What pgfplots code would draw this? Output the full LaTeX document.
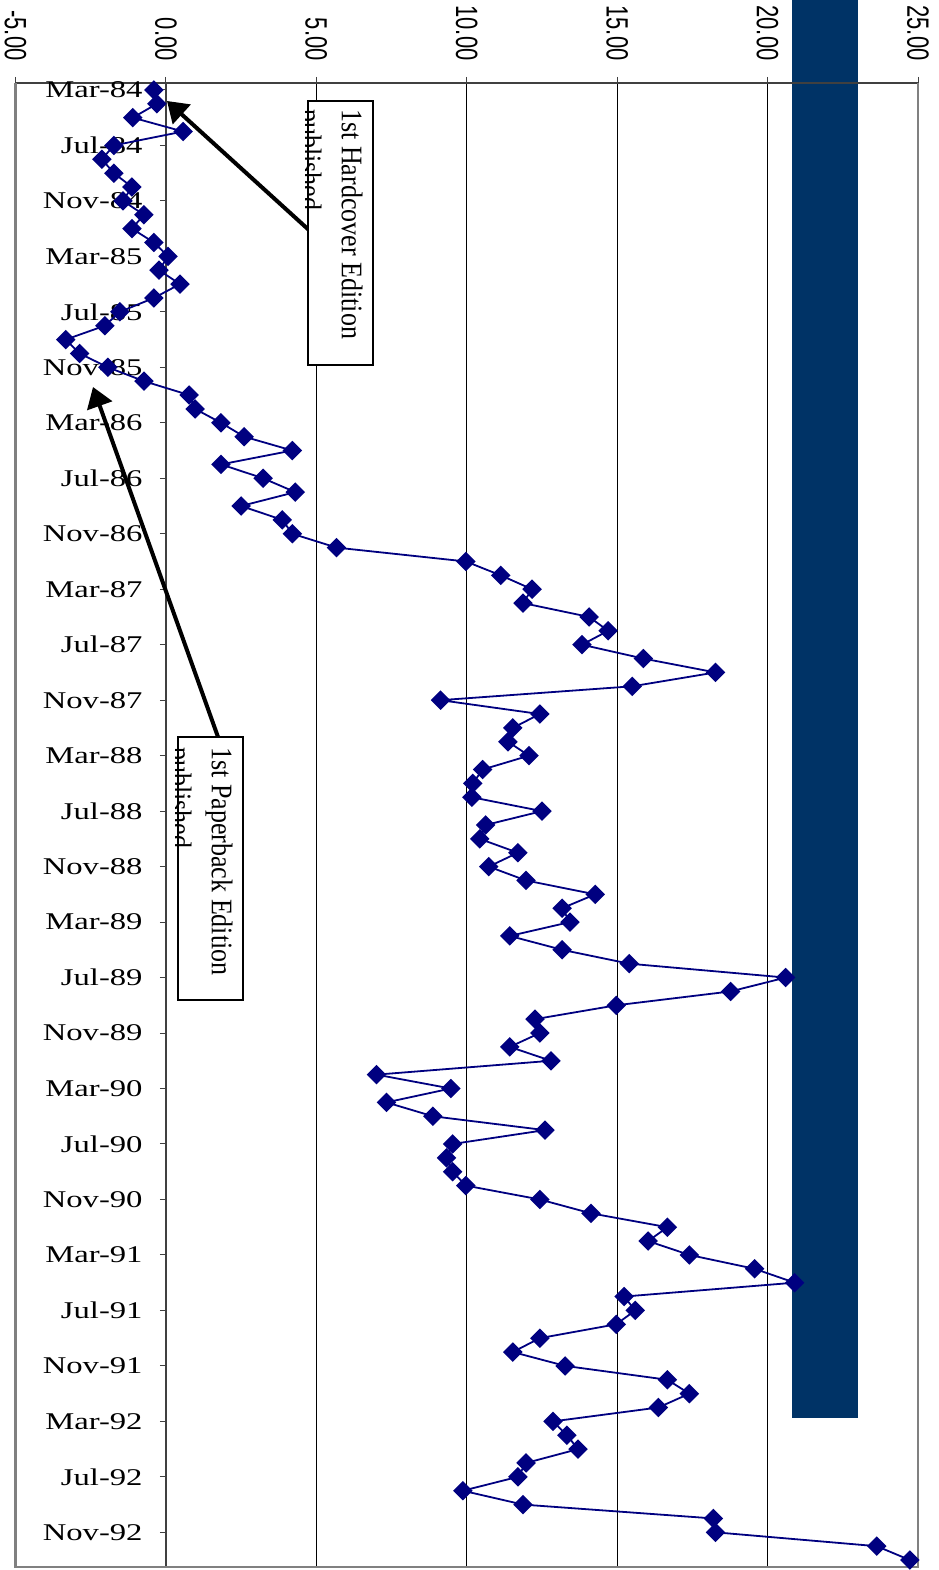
\documentclass[border=0pt]{standalone}
\usepackage{graphicx}
\usepackage{pgfplots}
\pgfplotsset{compat=1.18}
\usepackage{pgfplotstable}
\usepackage{fontspec}
\setmainfont{Liberation Serif}
\newfontfamily\arialfont{Liberation Sans}
\usetikzlibrary{arrows.meta}
\definecolor{navyline}{HTML}{000080}
\definecolor{darkbar}{HTML}{003366}
\newcommand\xl[1]{\scalebox{1}[1.4]{\arialfont #1}}
\newcommand\yl[1]{\scalebox{1.36}[1]{#1}}

\pgfplotstableread{
i v
0 -0.40
1 -0.30
2 -1.10
3 0.57
4 -1.73
5 -2.13
6 -1.73
7 -1.13
8 -1.43
9 -0.73
10 -1.13
11 -0.40
12 0.07
13 -0.23
14 0.47
15 -0.40
16 -1.53
17 -2.03
18 -3.33
19 -2.87
20 -1.93
21 -0.73
22 0.77
23 0.97
24 1.83
25 2.60
26 4.20
27 1.83
28 3.23
29 4.30
30 2.50
31 3.87
32 4.20
33 5.67
34 9.97
35 11.13
36 12.17
37 11.87
38 14.07
39 14.70
40 13.83
41 15.87
42 18.27
43 15.50
44 9.13
45 12.43
46 11.53
47 11.37
48 12.07
49 10.53
50 10.20
51 10.17
52 12.50
53 10.63
54 10.43
55 11.70
56 10.73
57 11.97
58 14.27
59 13.17
60 13.43
61 11.43
62 13.17
63 15.40
64 20.60
65 18.77
66 14.97
67 12.27
68 12.43
69 11.43
70 12.80
71 7.00
72 9.47
73 7.33
74 8.87
75 12.60
76 9.53
77 9.33
78 9.53
79 9.97
80 12.43
81 14.13
82 16.67
83 16.03
84 17.40
85 19.57
86 20.90
87 15.23
88 15.60
89 14.97
90 12.43
91 11.53
92 13.27
93 16.67
94 17.40
95 16.37
96 12.87
97 13.33
98 13.70
99 11.97
100 11.70
101 9.87
102 11.87
103 18.20
104 18.27
105 23.63
106 24.73
}\datatable

\begin{document}
\begin{tikzpicture}
\useasboundingbox (0,0) rectangle (469pt,785pt);
\begin{scope}[shift={(0pt,785pt)}, x=0.5pt, y=-0.5pt]
\fill[darkbar] (792,0) rectangle (858,1418);
\end{scope}
\begin{axis}[
  at={(7.75pt,1.5pt)}, anchor=south west,
  scale only axis, width=451.25pt, height=742pt,
  xmin=-5, xmax=25, ymin=-106.5, ymax=0.5,
  axis x line*=top, axis y line*=middle,
  axis line style={-, draw=black!75, line width=0.75pt},
  xtick={-5,0,...,25},
  xticklabels={\xl{-5.00},\xl{0.00},\xl{5.00},\xl{10.00},\xl{15.00},\xl{20.00},\xl{25.00}},
  xticklabel style={rotate=-90, anchor=east, inner sep=0pt, font=\fontsize{11}{11}\selectfont},
  xticklabel shift=8pt,
  ytick={-104,-100,...,0},
  yticklabels={\yl{Nov-92},\yl{Jul-92},\yl{Mar-92},\yl{Nov-91},\yl{Jul-91},\yl{Mar-91},\yl{Nov-90},\yl{Jul-90},\yl{Mar-90},\yl{Nov-89},\yl{Jul-89},\yl{Mar-89},\yl{Nov-88},\yl{Jul-88},\yl{Mar-88},\yl{Nov-87},\yl{Jul-87},\yl{Mar-87},\yl{Nov-86},\yl{Jul-86},\yl{Mar-86},\yl{Nov-85},\yl{Jul-85},\yl{Mar-85},\yl{Nov-84},\yl{Jul-84},\yl{Mar-84}},
  yticklabel style={anchor=east, inner sep=0pt, font=\fontsize{12}{12}\selectfont},
  yticklabel shift=8.5pt,
  tick align=outside,
  major tick length=3pt,
  tick style={draw=black!75, line width=0.5pt},
  xmajorgrids, grid style={black, line width=0.5pt},
  clip=false,
]
\draw[gray, line width=1.2pt] (rel axis cs:0,1) -- (rel axis cs:0,0) -- (rel axis cs:1,0) -- (rel axis cs:1,1);
\addplot[navyline, line width=0.9pt, mark=square*, mark size=3pt, mark options={rotate=45, fill=navyline, draw=navyline, solid}] table[x=v, y expr=-\thisrow{i}] {\datatable};
\end{axis}
\begin{scope}[shift={(0pt,785pt)}, x=0.5pt, y=-0.5pt]
\draw[line width=2pt, -{Triangle[length=10pt,width=13pt]}] (310,231) -- (167,101);
\draw[line width=2pt, -{Triangle[length=10pt,width=13pt]}] (218,737) -- (93,387);
\draw[line width=1pt, fill=white] (308,101) rectangle (373,365);
\begin{scope}
\clip (305,101) rectangle (373,365);
\node[rotate=-90, anchor=north west, inner sep=0pt, align=left, font=\fontsize{13}{20.5}\selectfont] at (363,109) {\scalebox{1}[1.15]{1st Hardcover Edition}\\\scalebox{1}[1.15]{published}};
\end{scope}
\draw[line width=1pt, fill=white] (178,737) rectangle (243,1000);
\begin{scope}
\clip (175,737) rectangle (243,1000);
\node[rotate=-90, anchor=north west, inner sep=0pt, align=left, font=\fontsize{13}{20.5}\selectfont] at (233,747) {\scalebox{1}[1.15]{1st Paperback Edition}\\\scalebox{1}[1.15]{published}};
\end{scope}
\end{scope}
\end{tikzpicture}
\end{document}
